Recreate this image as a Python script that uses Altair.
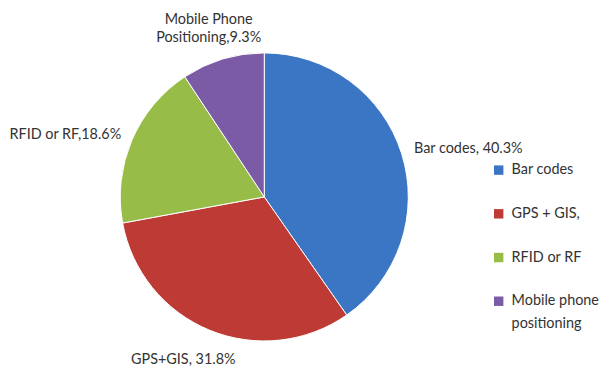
import altair as alt
import pandas as pd

categories = ["Bar codes", "GPS + GIS,", "RFID or RF", "Mobile phone positioning"]
shares = [40.3, 31.8, 18.6, 9.3]
slice_labels = ["Bar codes, 40.3%", "GPS+GIS, 31.8%", "RFID or RF,18.6%", "Mobile Phone\nPositioning,9.3%"]
legend_labels = ["Bar codes", "GPS + GIS,", "RFID or RF", "Mobile phone\npositioning"]
colors = ["#3B76C4", "#BD3A35", "#98BC48", "#7B5AA6"]

df = pd.DataFrame({
    "cat": categories,
    "share": shares,
    "label": slice_labels,
    "legend": legend_labels,
    "idx": list(range(len(categories))),
})

FONT = "Lato"
FS = 14.5
TXT = "#333333"
CX, CY = 258, 189

color = alt.Color("cat:N", scale=alt.Scale(domain=categories, range=colors), legend=None)

pie = alt.Chart(df).mark_arc(radius=145, stroke="white", strokeWidth=1).encode(
    theta=alt.Theta("share:Q", stack=True),
    order=alt.Order("idx:Q"),
    x=alt.value(CX),
    y=alt.value(CY),
    color=color,
)

lab_base = alt.Chart(df).transform_window(
    cum="sum(share)", sort=[alt.SortField("idx")]
).transform_joinaggregate(
    total="sum(share)"
).transform_calculate(
    frac="(datum.cum - datum.share / 2) / datum.total"
)

def lab(cat, radius, align, baseline, dx, dy):
    return lab_base.transform_filter(alt.datum.cat == cat).mark_text(
        radius=radius, align=align, baseline=baseline, dx=dx, dy=dy,
        font=FONT, fontSize=FS, color=TXT, lineBreak="\n", lineHeight=18
    ).encode(
        theta=alt.Theta("frac:Q", scale=alt.Scale(domain=[0, 1]), stack=None),
        x=alt.value(CX),
        y=alt.value(CY),
        text="label:N",
    )

labels = [
    lab(categories[0], 158, "left", "middle", 0, -1),
    lab(categories[1], 170, "center", "middle", -17, 7),
    lab(categories[2], 150, "right", "middle", -6, -4),
    lab(categories[3], 170, "center", "bottom", -7, -8),
]

leg_y = alt.Y("idx:Q", scale=alt.Scale(domain=[0, 3], range=[162, 294]), axis=None)
leg_sq = alt.Chart(df).mark_square(size=90, opacity=1).encode(
    x=alt.value(494), y=leg_y, color=color
)
leg_txt = alt.Chart(df).mark_text(
    align="left", baseline="middle", font=FONT, fontSize=FS, color=TXT, lineBreak="\n",
    lineHeight=23
).encode(x=alt.value(507), y=leg_y, text="legend:N")

chart = alt.layer(pie, *labels, leg_sq, leg_txt).properties(
    width=592, height=351, padding=0
).configure_view(stroke=None).resolve_scale(y="independent", theta="independent")

chart.save("out.html", embed_options={"renderer": "svg", "actions": False})
